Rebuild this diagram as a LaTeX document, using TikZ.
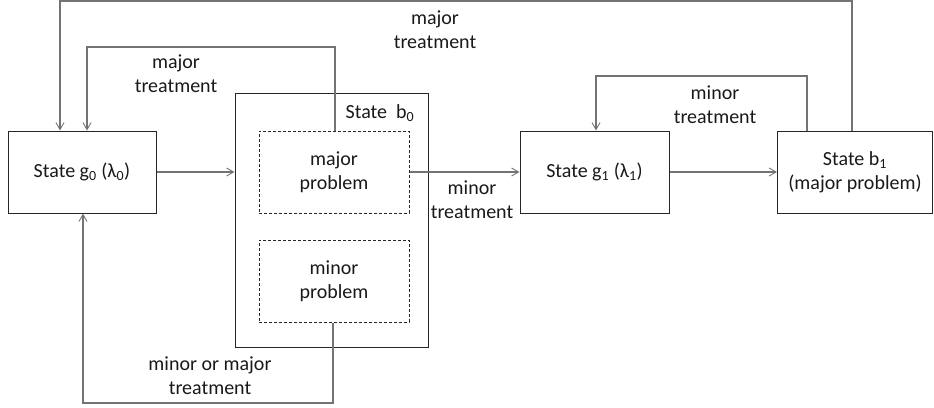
\documentclass[tikz,border=0pt]{standalone}
\usepackage{fontspec}
\setmainfont{Carlito}
\usetikzlibrary{arrows.meta}
\begin{document}
\begin{tikzpicture}[x=1pt,y=-1pt,
  font=\fontsize{20}{24}\selectfont,
  box/.style={draw=black!85,line width=1pt,inner sep=0pt,align=center,text=black!90},
  dbox/.style={box,dashed,dash pattern=on 3pt off 2pt},
  conn/.style={draw=black!55,line width=1.1pt,-{Straight Barb[length=7pt,width=8pt,line width=0.9pt]}},
  lbl/.style={align=center,text=black!90,inner sep=0pt}]
\useasboundingbox (0,0) rectangle (934,407);
% states
\node[box,minimum width=148,minimum height=82] (g0) at (82,172) {State g\textsubscript{0} (λ\textsubscript{0})};
\node[box,minimum width=193,minimum height=254] (b0) at (331.5,220) {};
\node[lbl] (b0lbl) at (380,113) {State\ \ b\textsubscript{0}};
\node[dbox,minimum width=150,minimum height=82] (major) at (334,172) {major\\problem};
\node[dbox,minimum width=150,minimum height=82] (minor) at (334,281) {minor\\problem};
\node[box,minimum width=149,minimum height=82] (g1) at (594.5,172) {State g\textsubscript{1} (λ\textsubscript{1})};
\node[box,minimum width=155,minimum height=82] (b1) at (855,172) {State b\textsubscript{1}\\(major problem)};
% transitions
\draw[conn] ([xshift=-3]b1.north) |- (60,1) -- ([xshift=-22]g0.north);
\draw[conn] ([xshift=1]major.north) |- (87,47) -- ([xshift=5]g0.north);
\draw[conn] (g0.east) -- (g0.east -| b0.west);
\draw[conn] (major.east) -- (g1.west);
\draw[conn] (g1.east) -- (b1.west);
\draw[conn] ([xshift=-48]b1.north) |- (596,76) -- ([xshift=1.5]g1.north);
\draw[conn] ([xshift=-1]minor.south) |- (83,403) -- ([xshift=1]g0.south);
% labels
\node[lbl] (l1) at (435,30) {major\\treatment};
\node[lbl] (l2) at (176,74) {major\\treatment};
\node[lbl] (l3) at (472,200) {minor\\treatment};
\node[lbl] (l4) at (715,105) {minor\\treatment};
\node[lbl] (l5) at (210,376) {minor or major\\treatment};
\end{tikzpicture}
\end{document}
